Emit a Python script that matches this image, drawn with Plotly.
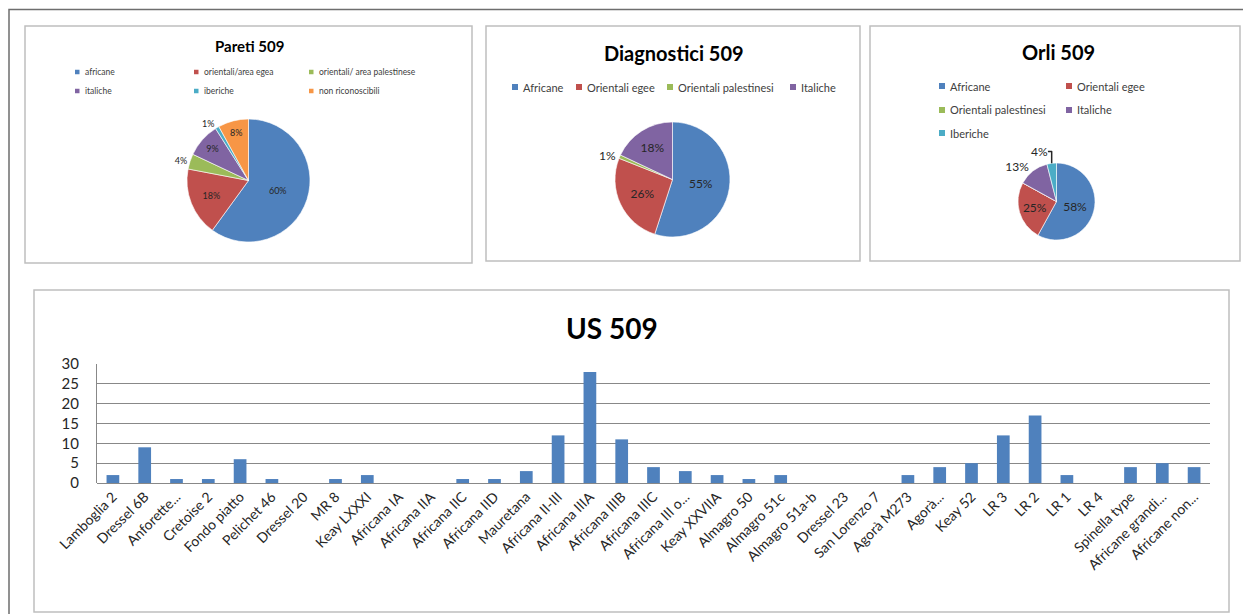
import plotly.graph_objects as go

W, H = 1243, 614

# ---------------- data ----------------
pareti_labels = ["africane", "orientali/area egea", "orientali/ area palestinese",
                 "italiche", "iberiche", "non riconoscibili"]
pareti_values = [60, 18, 4, 9, 1, 8]

diag_labels = ["Africane", "Orientali egee", "Orientali palestinesi", "Italiche"]
diag_values = [55, 26, 1, 18]

orli_labels = ["Africane", "Orientali egee", "Orientali palestinesi", "Italiche", "Iberiche"]
orli_values = [58, 25, 0, 13, 4]

us_categories = ["Lamboglia 2", "Dressel 6B", "Anforette...", "Cretoise 2", "Fondo piatto",
                 "Pelichet 46", "Dressel 20", "MR 8", "Keay LXXXI", "Africana IA",
                 "Africana IIA", "Africana IIC", "Africana IID", "Mauretana", "Africana II-III",
                 "Africana IIIA", "Africana IIIB", "Africana IIIC", "Africana III o...", "Keay XXVIIA",
                 "Almagro 50", "Almagro 51c", "Almagro 51a-b", "Dressel 23", "San Lorenzo 7",
                 "Agorà M273", "Agorà...", "Keay 52", "LR 3", "LR 2",
                 "LR 1", "LR 4", "Spinella type", "Africane grandi...", "Africane non..."]
us_values = [2, 9, 1, 1, 6, 1, 0, 1, 2, 0,
             0, 1, 1, 3, 12, 28, 11, 4, 3, 2,
             1, 2, 0, 0, 0, 2, 4, 5, 12, 17,
             2, 0, 4, 5, 4]
y_ticks = [0, 5, 10, 15, 20, 25, 30]

# ---------------- styles ----------------
BLUE, RED, GREEN, PURPLE, CYAN, ORANGE = "#4F81BD", "#C0504D", "#9BBB59", "#8064A2", "#4BACC6", "#F79646"
pareti_colors = [BLUE, RED, GREEN, PURPLE, CYAN, ORANGE]
diag_colors = [BLUE, RED, GREEN, PURPLE]
orli_colors = [BLUE, RED, GREEN, PURPLE, CYAN]
FONT = "Lato, 'Open Sans', sans-serif"
BOX = "#BFBFBF"


def px(x):
    return x / W


def py(y):
    return 1 - y / H


def pie_domain(cx, cy, r):
    return dict(x=[px(cx - r), px(cx + r)], y=[py(cy + r), py(cy - r)])


def templates(values, outside_idx):
    tt = ["%{percent:.0%}" if v > 0 else "" for v in values]
    pos = ["outside" if i in outside_idx else "inside" for i in range(len(values))]
    return tt, pos


fig = go.Figure()

tt, pos = templates(pareti_values, {2, 4})
fig.add_trace(go.Pie(labels=pareti_labels, values=pareti_values, sort=False, direction="clockwise",
                     rotation=0, marker=dict(colors=pareti_colors, line=dict(color="white", width=0.6)),
                     texttemplate=tt, textposition=pos, insidetextorientation="horizontal",
                     textfont=dict(family=FONT, size=9, color="#262626"),
                     domain=pie_domain(248.5, 180.5, 61.5), showlegend=False, hoverinfo="label+percent",
                     automargin=False))

tt, pos = templates(diag_values, {2})
fig.add_trace(go.Pie(labels=diag_labels, values=diag_values, sort=False, direction="clockwise",
                     rotation=0, marker=dict(colors=diag_colors, line=dict(color="white", width=0.6)),
                     texttemplate=tt, textposition=pos, insidetextorientation="horizontal",
                     textfont=dict(family=FONT, size=12, color="#262626"),
                     domain=pie_domain(672.5, 179.5, 57.5), showlegend=False, hoverinfo="label+percent",
                     automargin=False))

tt, pos = templates(orli_values, {3, 4})
fig.add_trace(go.Pie(labels=orli_labels, values=orli_values, sort=False, direction="clockwise",
                     rotation=0, marker=dict(colors=orli_colors, line=dict(color="white", width=0.6)),
                     texttemplate=tt, textposition=pos, insidetextorientation="horizontal",
                     textfont=dict(family=FONT, size=12, color="#262626"),
                     domain=pie_domain(1056.5, 201.5, 38.5), showlegend=False, hoverinfo="label+percent",
                     automargin=False))

fig.add_trace(go.Bar(x=us_categories, y=us_values, marker=dict(color=BLUE, line=dict(width=0)),
                     showlegend=False, xaxis="x", yaxis="y"))

shapes = []
annotations = []

# outer frame and chart boxes
shapes.append(dict(type="rect", xref="paper", yref="paper", x0=px(9), x1=px(1260), y0=py(630), y1=py(9.5),
                   line=dict(color="#6E6E6E", width=1.5), layer="below"))
for (x0, y0, x1, y1) in [(25, 26, 472, 263), (486, 26, 860, 261), (870, 26, 1240, 261), (34, 290, 1229, 612)]:
    shapes.append(dict(type="rect", xref="paper", yref="paper", x0=px(x0), x1=px(x1), y0=py(y1), y1=py(y0),
                       line=dict(color=BOX, width=1.5), layer="below"))

# titles
for text, x, y, size in [("Pareti 509", 249, 46, 15), ("Diagnostici 509", 674, 53, 20),
                         ("Orli 509", 1058, 52, 20), ("US 509", 612, 328, 28)]:
    annotations.append(dict(text="<b>%s</b>" % text, x=px(x), y=py(y), xref="paper", yref="paper",
                            showarrow=False, xanchor="center", yanchor="middle",
                            font=dict(family=FONT, size=size, color="#000000")))


def legend_item(label, color, sx, sy, sq, fsize):
    shapes.append(dict(type="rect", xref="paper", yref="paper", x0=px(sx), x1=px(sx + sq),
                       y0=py(sy + sq / 2), y1=py(sy - sq / 2), line=dict(width=0), fillcolor=color))
    annotations.append(dict(text=label, x=px(sx + sq + 3), y=py(sy), xref="paper", yref="paper",
                            showarrow=False, xanchor="left", yanchor="middle",
                            font=dict(family=FONT, size=fsize, color="#404040")))


# Pareti legend (3 columns x 2 rows)
p_pos = [(75, 72), (194, 72), (309, 72), (75, 91), (194, 91), (309, 91)]
for lab, col, (x, y) in zip(pareti_labels, pareti_colors, p_pos):
    legend_item(lab, col, x, y, 4.5, 8.5)

# Diagnostici legend (one row)
d_pos = [(512, 87), (576, 87), (667, 87), (790, 87)]
for lab, col, (x, y) in zip(diag_labels, diag_colors, d_pos):
    legend_item(lab, col, x, y, 6, 11)

# Orli legend (2 columns)
o_pos = [(939, 86), (1066, 86), (939, 110), (1066, 110), (939, 133)]
for lab, col, (x, y) in zip(orli_labels, orli_colors, o_pos):
    legend_item(lab, col, x, y, 6, 11)

fig.update_layout(
    template=None,
    width=W, height=H, autosize=False,
    margin=dict(l=0, r=0, t=0, b=0, autoexpand=False),
    paper_bgcolor="white", plot_bgcolor="white",
    font=dict(family=FONT, color="#262626"),
    shapes=shapes, annotations=annotations,
    bargap=0.6,
    xaxis=dict(domain=[px(97), px(1210)], anchor="y", tickangle=-45, showgrid=False, automargin=False,
               showline=False, ticks="", ticklabelstandoff=2,
               tickfont=dict(family=FONT, size=14, color="#262626"),
               fixedrange=True),
    yaxis=dict(domain=[py(483), py(364)], anchor="x", range=[0, 30], tickvals=y_ticks, automargin=False,
               showgrid=True, gridcolor="#888888", gridwidth=1.2, zeroline=True, zerolinecolor="#888888",
               zerolinewidth=1.2, showline=True, linecolor="#888888", linewidth=1.2, ticks="",
               ticklabelstandoff=14,
               tickfont=dict(family=FONT, size=15, color="#262626"), fixedrange=True),
)

fig.write_html("out.html")
